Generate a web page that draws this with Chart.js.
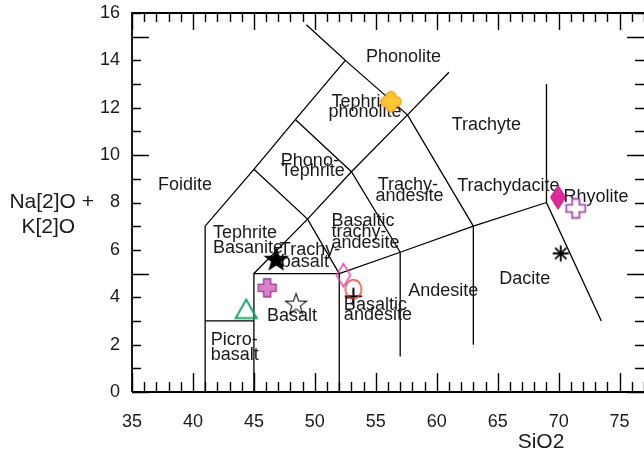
<!DOCTYPE html>
<html>
<head>
<meta charset="utf-8">
<script src="https://cdn.jsdelivr.net/npm/chart.js@4/dist/chart.umd.min.js"></script>
<style>
  html, body { margin: 0; padding: 0; background: #fff; }
  #wrap { width: 644px; height: 449px; position: relative; }
</style>
</head>
<body>
<div id="wrap"><canvas id="tas"></canvas></div>
<script>
// ---- Axis ticks ----
const xTickValues = [35, 40, 45, 50, 55, 60, 65, 70, 75];
const yTickValues = [0, 2, 4, 6, 8, 10, 12, 14, 16];

// ---- TAS field boundaries (SiO2, Na2O + K2O) ----
const boundaryFoidite   = [[41, 0], [41, 7], [45, 9.4], [48.4, 11.5], [52.5, 14], [49.3, 15.5]];
const boundaryPicro     = [[41, 3], [45, 3]];
const boundaryBasalt    = [[45, 0], [45, 5], [52, 5], [52, 0]];
const boundaryTrachyLow = [[45, 5], [49.4, 7.3], [53, 9.3], [57.6, 11.7], [61, 13.5]];
const boundaryTephrite  = [[45, 9.4], [49.4, 7.3], [52, 5]];
const boundaryPhonoTeph = [[48.4, 11.5], [53, 9.3], [57, 5.9]];
const boundaryPhonolite = [[52.5, 14], [57.6, 11.7], [63, 7]];
const boundarySubalk    = [[52, 5], [57, 5.9], [63, 7], [69, 8]];
const boundaryAndesite  = [[57, 1.5], [57, 5.9]];
const boundaryDacite    = [[63, 2], [63, 7]];
const boundaryRhyolite  = [[69, 13], [69, 8], [73.5, 3]];

// ---- Field names ----
const fieldLabelText = ["Phonolite", "Tephri-", "phonolite", "Trachyte", "Phono-", "Tephrite",
  "Foidite", "Trachy-", "andesite", "Trachydacite", "Rhyolite", "Basaltic", "trachy-", "andesite",
  "Tephrite", "Basanite", "Trachy-", "basalt", "Basalt", "Basaltic", "andesite", "Andesite",
  "Dacite", "Picro-", "basalt"];
const fieldLabelX = [54.19, 51.37, 51.12, 61.22, 47.21, 47.21,
  37.13, 55.15, 54.98, 61.68, 70.39, 51.37, 51.37, 51.37,
  41.65, 41.65, 47.13, 47.21, 46.08, 52.38, 52.38, 57.66,
  65.13, 41.46, 41.46];
const fieldLabelY = [13.94, 12.05, 11.60, 11.04, 9.56, 9.12,
  8.53, 8.51, 8.06, 8.50, 8.04, 7.00, 6.53, 6.06,
  6.51, 5.86, 5.80, 5.29, 3.00, 3.45, 3.02, 4.05,
  4.54, 1.97, 1.34];

// ---- Samples ----
const sampleSiO2   = [56.24, 46.83, 46.09, 44.37, 48.46, 52.34, 53.16, 53.16, 69.95, 71.40, 70.17];
const sampleAlkali = [12.26, 5.57, 4.40, 3.48, 3.69, 4.93, 4.34, 4.04, 8.22, 7.75, 5.85];

const FONT = '"Liberation Sans", Arial, Helvetica, sans-serif';
const INK = '#1a1a1a';

// ---- Marker glyphs ----
function glyph(w, h, paint) {
  const c = document.createElement('canvas');
  c.width = w; c.height = h;
  const g = c.getContext('2d');
  g.translate(w / 2, h / 2);
  paint(g);
  return c;
}
function starPath(g, R, r) {
  g.beginPath();
  for (let i = 0; i < 10; i++) {
    const a = -Math.PI / 2 + i * Math.PI / 5;
    const rad = i % 2 ? r : R;
    g.lineTo(Math.cos(a) * rad, Math.sin(a) * rad);
  }
  g.closePath();
}
function plusPath(g, half, arm) {
  g.beginPath();
  g.moveTo(-arm, -half); g.lineTo(-half, -half); g.lineTo(-half, -arm); g.lineTo(half, -arm);
  g.lineTo(half, -half); g.lineTo(arm, -half); g.lineTo(arm, half); g.lineTo(half, half);
  g.lineTo(half, arm); g.lineTo(-half, arm); g.lineTo(-half, half); g.lineTo(-arm, half);
  g.closePath();
}
function polyPath(g, pts) {
  g.beginPath();
  pts.forEach((p, i) => i ? g.lineTo(p[0], p[1]) : g.moveTo(p[0], p[1]));
  g.closePath();
}

const markerStyles = [
  glyph(26, 26, g => { // gold rounded cross
    g.lineCap = 'round';
    const arms = () => { g.beginPath(); g.moveTo(-5, 0); g.lineTo(5, 0); g.moveTo(0, -5); g.lineTo(0, 5); g.stroke(); };
    g.strokeStyle = '#F29B1C'; g.lineWidth = 11.5; arms();
    g.strokeStyle = '#FFC52F'; g.lineWidth = 9; arms();
  }),
  glyph(28, 28, g => { // black filled star
    starPath(g, 11.5, 4.7); g.fillStyle = '#000'; g.fill();
    g.strokeStyle = '#000'; g.lineWidth = 1.3; g.stroke();
  }),
  glyph(22, 22, g => { // orchid filled plus
    plusPath(g, 3.6, 9); g.fillStyle = '#D681C8'; g.fill();
    g.strokeStyle = '#9B3A96'; g.lineWidth = 1.3; g.stroke();
  }),
  glyph(26, 24, g => { // green open triangle
    polyPath(g, [[0, -10], [10.5, 8.5], [-10.5, 8.5]]);
    g.strokeStyle = '#1AA262'; g.lineWidth = 2; g.stroke();
  }),
  glyph(26, 26, g => { // open star
    starPath(g, 11, 4.4); g.strokeStyle = '#111'; g.lineWidth = 1.1; g.stroke();
  }),
  glyph(20, 28, g => { // magenta open diamond
    polyPath(g, [[0, -11.5], [7, 0], [0, 11.5], [-7, 0]]);
    g.strokeStyle = '#E345AA'; g.lineWidth = 1.5; g.stroke();
  }),
  glyph(22, 24, g => { // red open circle
    g.beginPath(); g.ellipse(0, 0, 8, 9.5, 0, 0, Math.PI * 2);
    g.strokeStyle = '#E5432F'; g.lineWidth = 1.5; g.stroke();
  }),
  glyph(22, 22, g => { // black plus
    g.beginPath(); g.moveTo(-8.5, 0); g.lineTo(8.5, 0); g.moveTo(0, -8.5); g.lineTo(0, 8.5);
    g.strokeStyle = '#000'; g.lineWidth = 2; g.stroke();
  }),
  glyph(20, 28, g => { // magenta filled diamond
    polyPath(g, [[0, -12], [7.5, 0], [0, 12], [-7.5, 0]]);
    g.fillStyle = '#E2299B'; g.fill(); g.strokeStyle = '#B8177A'; g.lineWidth = 1; g.stroke();
  }),
  glyph(24, 24, g => { // purple open plus
    plusPath(g, 3.6, 9.5); g.fillStyle = '#fff'; g.fill();
    g.strokeStyle = '#A24FB1'; g.lineWidth = 1.8; g.stroke();
  }),
  glyph(22, 22, g => { // asterisk
    g.beginPath();
    for (let k = 0; k < 4; k++) {
      const a = k * Math.PI / 4, dx = Math.cos(a) * 8, dy = Math.sin(a) * 8;
      g.moveTo(-dx, -dy); g.lineTo(dx, dy);
    }
    g.strokeStyle = '#000'; g.lineWidth = 1.8; g.stroke();
  })
];

// ---- Datasets ----
const boundaries = [boundaryFoidite, boundaryPicro, boundaryBasalt, boundaryTrachyLow, boundaryTephrite,
  boundaryPhonoTeph, boundaryPhonolite, boundarySubalk, boundaryAndesite, boundaryDacite, boundaryRhyolite];

const datasets = [];
sampleSiO2.forEach((x, i) => {
  datasets.push({
    kind: 'sample', order: 1,
    data: [{ x: x, y: sampleAlkali[i] }],
    pointStyle: markerStyles[i], pointRadius: 8, pointHoverRadius: 8,
    showLine: false
  });
});
boundaries.forEach(seg => {
  datasets.push({
    kind: 'boundary', order: 2,
    data: seg.map(p => ({ x: p[0], y: p[1] })),
    showLine: true, borderColor: '#000', borderWidth: 1.3,
    pointRadius: 0, pointHoverRadius: 0, fill: false, tension: 0
  });
});

// ---- Frame, inward ticks, field names and axis titles ----
let namesDrawn = false;
const tasDecor = {
  id: 'tasDecor',
  beforeDraw() { namesDrawn = false; },
  beforeDatasetDraw(chart, args) {
    const ds = chart.data.datasets[args.index];
    if (ds.kind !== 'sample' || namesDrawn) return;
    namesDrawn = true;
    const { ctx, scales: { x, y } } = chart;
    ctx.save();
    ctx.font = '18px ' + FONT;
    ctx.fillStyle = INK;
    ctx.textAlign = 'left';
    ctx.textBaseline = 'alphabetic';
    fieldLabelText.forEach((t, i) => {
      ctx.fillText(t, x.getPixelForValue(fieldLabelX[i]), y.getPixelForValue(fieldLabelY[i]));
    });
    ctx.restore();
  },
  afterDraw(chart) {
    const { ctx, chartArea: a, scales: { x, y } } = chart;
    ctx.save();
    ctx.strokeStyle = '#000';
    // frame (left, top, bottom)
    ctx.lineWidth = 1.8;
    ctx.beginPath();
    ctx.moveTo(a.left, a.bottom); ctx.lineTo(a.left, a.top); ctx.lineTo(a.right + 2, a.top);
    ctx.moveTo(a.left, a.bottom); ctx.lineTo(a.right + 2, a.bottom);
    ctx.stroke();
    // ticks every unit, longer every five
    ctx.lineWidth = 1.4;
    ctx.beginPath();
    for (let v = Math.ceil(x.min); v <= x.max; v++) {
      const px = Math.round(x.getPixelForValue(v)) + 0.5;
      const major = v % 5 === 0;
      ctx.moveTo(px, a.top); ctx.lineTo(px, a.top + (major ? 17 : 9));
      ctx.moveTo(px, a.bottom); ctx.lineTo(px, a.bottom - (major ? 19 : 10));
    }
    for (let v = Math.ceil(y.min); v <= y.max; v++) {
      const py = Math.round(y.getPixelForValue(v)) + 0.5;
      const major = v % 5 === 0;
      ctx.moveTo(a.left, py); ctx.lineTo(a.left + (major ? 17 : 9), py);
      ctx.moveTo(a.right, py); ctx.lineTo(a.right - (major ? 17 : 9), py);
    }
    ctx.stroke();
    // axis titles
    ctx.fillStyle = INK;
    ctx.font = '21px ' + FONT;
    ctx.textAlign = 'center';
    ctx.textBaseline = 'alphabetic';
    ctx.fillText('SiO2', 541, 448);
    ctx.fillText('Na[2]O +', 51.7, 207.5);
    ctx.fillText('K[2]O', 48.3, 233);
    ctx.restore();
  }
};

new Chart(document.getElementById('tas'), {
  type: 'scatter',
  data: { datasets },
  options: {
    responsive: true,
    maintainAspectRatio: false,
    animation: false,
    events: [],
    layout: { autoPadding: false, padding: { left: 0, top: 13, right: 0, bottom: 0 } },
    plugins: { legend: { display: false }, tooltip: { enabled: false } },
    scales: {
      x: {
        type: 'linear', position: 'bottom', min: 35, max: 77,
        afterFit: s => { s.height = 57; s.paddingLeft = 0; s.paddingRight = 0; },
        afterBuildTicks: s => { s.ticks = xTickValues.map(v => ({ value: v })); },
        grid: { display: false }, border: { display: false },
        ticks: { font: { family: FONT, size: 18 }, color: INK, padding: 11, maxRotation: 0, autoSkip: false }
      },
      y: {
        type: 'linear', position: 'left', min: 0, max: 16,
        afterFit: s => { s.width = 132; s.paddingTop = 0; s.paddingBottom = 0; },
        afterBuildTicks: s => { s.ticks = yTickValues.map(v => ({ value: v })); },
        grid: { display: false }, border: { display: false },
        ticks: { font: { family: FONT, size: 18 }, color: INK, padding: 4, autoSkip: false }
      }
    }
  },
  plugins: [tasDecor]
});
</script>
</body>
</html>
